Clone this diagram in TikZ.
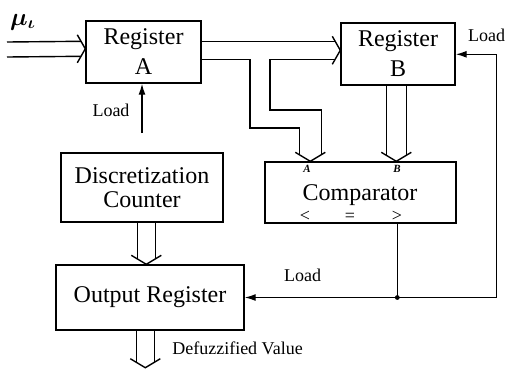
\documentclass[tikz,border=0pt]{standalone}
\usepackage{fontspec}
\setmainfont{Liberation Serif}
\usepackage{amsmath,bm}
\usetikzlibrary{calc,arrows.meta}

\begin{document}
\begin{tikzpicture}[x=1pt,y=-1pt,
  box/.style={draw,line width=1.4pt,inner sep=0pt,align=center,
    font=\fontsize{24}{30}\selectfont},
  wire/.style={line width=1.4pt},
  ctl/.style={wire,-{Latex[length=11pt,width=7pt]}},
  lbl/.style={font=\fontsize{18}{20}\selectfont,inner sep=0pt},
  tag/.style={font=\fontsize{11}{11}\selectfont\bfseries\itshape,inner sep=0pt},
  busdown/.pic={\draw[wire] (-15,-9) -- (0,0) -- (15,-9);},
  busright/.pic={\draw[wire] (-8,-14) -- (0,0) -- (-8,14);}]
\useasboundingbox (0,0) rectangle (506,368);

% blocks
\node[box,minimum width=115pt,minimum height=62pt] (regA) at (143.5,52) {Register\\A};
\node[box,minimum width=114pt,minimum height=62pt] (regB) at (398,54) {Register\\B};
\node[box,minimum width=191pt,minimum height=61pt] (comp) at (360.5,192.5) {};
\node[box,minimum width=162pt,minimum height=69pt,font=\fontsize{24}{24}\selectfont]
  (disc) at (142,187.5) {Discretization\\Counter};
\node[box,minimum width=188pt,minimum height=65pt] (outreg) at (150,297.5) {Output Register};

% comparator inscriptions
\node[font=\fontsize{24}{24}\selectfont,inner sep=0pt] (comptxt) at (360,195) {Comparator};
\node[tag] (tA) at (307,169) {A};
\node[tag] (tB) at (397,169) {B};
\node[lbl] (lt) at (305,216) {<};
\node[lbl] (eq) at (350,217) {=};
\node[lbl] (gtt) at (397,216) {>};

% input bus into register A
\coordinate (in1) at (7,42);
\coordinate (in2) at (7,57);
\node[font=\fontsize{27}{27}\selectfont,inner sep=0pt,anchor=base west] (mu) at (10,25)
  {$\bm{\mu}_{\bm{\iota}}$};
\draw[wire] (in1) -- ($(regA.north west)+(-4.3,21)$);
\draw[wire] (in2) -- ($(regA.north west)+(-4.3,36)$);
\pic at ($(regA.north west)+(0,28.5)$) {busright};

% bus from register A to register B and to comparator input A
\draw[wire] ($(regA.north east)+(0,21)$) -- ($(regB.north west)+(-5.1,19)$);
\draw[wire] ($(regA.north east)+(0,39)$) -| (250,128) -| ($(comp.north west)+(35,-6.5)$);
\draw[wire] ($(regB.north west)+(-5.1,37)$) -| (270,110) -| ($(comp.north west)+(57,-6.5)$);
\pic at ($(regB.north west)+(0,28)$) {busright};
\pic at ($(comp.north west)+(46,0)$) {busdown};

% bus from register B to comparator input B
\coordinate (b1) at ($(regB.south west)+(46,0)$);
\coordinate (b2) at ($(regB.south west)+(66,0)$);
\draw[wire] (b1) -- ($(b1 |- comp.north)+(0,-6)$);
\draw[wire] (b2) -- ($(b2 |- comp.north)+(0,-6)$);
\pic at ($(b1 |- comp.north)+(10,0)$) {busdown};

% load of register A
\coordinate (loadA) at (142,133);
\draw[ctl] (loadA) -- (loadA |- regA.south);
\node[lbl] (ldA) at (111,110) {Load};

% '>' output loads the output register and register B
\coordinate (gt) at ($(comp.south west)+(133,0)$);
\coordinate (j) at (gt |- outreg.east);
\draw[wire] (gt) -- (j);
\draw[ctl] (j) -- (outreg.east);
\draw[ctl] (j) -- ++(99,0) |- ($(regB.north east)+(0,32)$);
\fill (j) circle (2.4pt);
\node[lbl] (ldO) at (302.5,275) {Load};
\node[lbl] (ldB) at (486.5,35) {Load};

% bus from the counter to the output register
\coordinate (c1) at ($(disc.south west)+(77,0)$);
\coordinate (c2) at ($(disc.south west)+(95,0)$);
\draw[wire] (c1) -- ($(c1 |- outreg.north)+(0,-5.5)$);
\draw[wire] (c2) -- ($(c2 |- outreg.north)+(0,-5.5)$);
\pic at ($(c1 |- outreg.north)+(9,0)$) {busdown};

% result bus
\coordinate (o1) at ($(outreg.south west)+(81,0)$);
\coordinate (o2) at ($(outreg.south west)+(99,0)$);
\draw[wire] (o1) -- ($(o1)+(0,31.5)$);
\draw[wire] (o2) -- ($(o2)+(0,31.5)$);
\pic at ($(o1)+(9,37)$) {busdown};
\node[lbl] (dv) at (237.5,348) {Defuzzified Value};
\end{tikzpicture}
\end{document}
